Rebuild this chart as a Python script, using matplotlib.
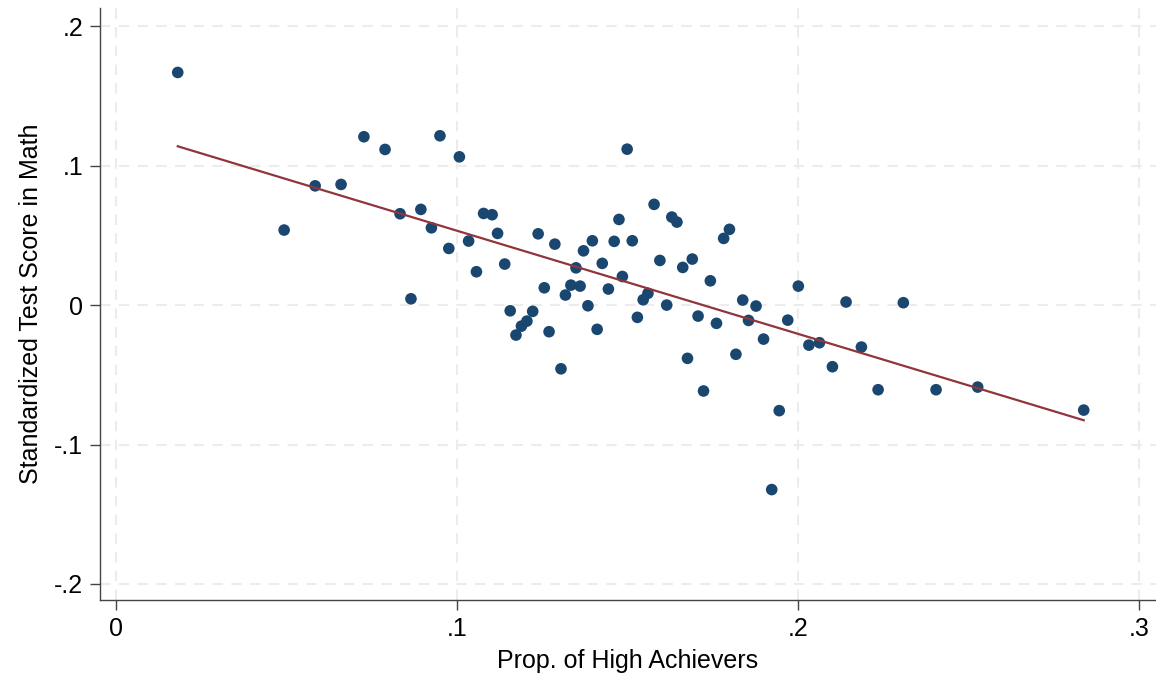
import numpy as np
import matplotlib
matplotlib.use('Agg')
import matplotlib.pyplot as plt

# Proportion of high achievers vs standardized math score
prop_high = [0.0181, 0.0493, 0.0584, 0.0660, 0.0727, 0.0789, 0.0833, 0.0865, 0.0894, 0.0925,
             0.0950, 0.0976, 0.1007, 0.1034, 0.1057, 0.1078, 0.1103, 0.1119, 0.1140, 0.1156,
             0.1173, 0.1189, 0.1205, 0.1222, 0.1238, 0.1256, 0.1270, 0.1287, 0.1305, 0.1318,
             0.1334, 0.1349, 0.1361, 0.1371, 0.1384, 0.1397, 0.1411, 0.1426, 0.1444, 0.1461,
             0.1475, 0.1485, 0.1499, 0.1514, 0.1529, 0.1546, 0.1560, 0.1578, 0.1595, 0.1615,
             0.1630, 0.1645, 0.1662, 0.1676, 0.1690, 0.1707, 0.1723, 0.1743, 0.1761, 0.1782,
             0.1799, 0.1818, 0.1838, 0.1855, 0.1877, 0.1899, 0.1923, 0.1945, 0.1970, 0.2001,
             0.2032, 0.2063, 0.2101, 0.2141, 0.2186, 0.2235, 0.2309, 0.2405, 0.2527, 0.2838]
math_score = [0.1668, 0.0538, 0.0855, 0.0865, 0.1207, 0.1116, 0.0655, 0.0045, 0.0686, 0.0554,
              0.1214, 0.0406, 0.1063, 0.0459, 0.0239, 0.0657, 0.0648, 0.0514, 0.0294, -0.0041,
              -0.0215, -0.0151, -0.0115, -0.0045, 0.0511, 0.0124, -0.0191, 0.0437, -0.0457, 0.0072,
              0.0143, 0.0267, 0.0136, 0.0389, -0.0005, 0.0461, -0.0174, 0.0299, 0.0115, 0.0457,
              0.0614, 0.0205, 0.1118, 0.0461, -0.0088, 0.0038, 0.0084, 0.0722, 0.0320, 0.0000,
              0.0631, 0.0595, 0.0270, -0.0382, 0.0330, -0.0079, -0.0616, 0.0174, -0.0131, 0.0478,
              0.0543, -0.0353, 0.0036, -0.0110, -0.0007, -0.0244, -0.1323, -0.0757, -0.0108, 0.0136,
              -0.0287, -0.0270, -0.0442, 0.0022, -0.0301, -0.0607, 0.0017, -0.0607, -0.0588, -0.0753]

x_ticks = [0, 0.1, 0.2, 0.3]
x_tick_labels = ['0', '.1', '.2', '.3']
y_ticks = [-0.2, -0.1, 0, 0.1, 0.2]
y_tick_labels = ['-.2', '-.1', '0', '.1', '.2']

plt.rcParams['font.family'] = ['Liberation Sans', 'DejaVu Sans']

x = np.array(prop_high)
y = np.array(math_score)

fig = plt.figure(figsize=(11.56, 6.8), dpi=100)
ax = fig.add_axes([0.0865, 0.1176, 0.9135, 0.8706])

ax.scatter(x, y, s=70, color='#1a476f', edgecolors='none', zorder=3)

# linear fit, like Stata's lfit
slope, intercept = np.polyfit(x, y, 1)
xfit = np.array([x.min(), x.max()])
ax.plot(xfit, intercept + slope * xfit, color='#90353b', lw=1.6, zorder=4)

ax.set_xlim(-0.0047, 0.305)
ax.set_ylim(-0.2115, 0.213)
ax.set_xticks(x_ticks)
ax.set_xticklabels(x_tick_labels)
ax.set_yticks(y_ticks)
ax.set_yticklabels(y_tick_labels)

ax.grid(True, color='#ececec', linestyle=(0, (5, 4)), linewidth=1.5, zorder=0)
for side in ['top', 'right']:
    ax.spines[side].set_visible(False)
for side in ['left', 'bottom']:
    ax.spines[side].set_color('#444444')
    ax.spines[side].set_linewidth(1.0)

ax.tick_params(axis='both', direction='out', length=7, width=1, color='#444444',
               labelsize=18, pad=5)

ax.set_xlabel('Prop. of High Achievers', fontsize=18, labelpad=6)
ax.set_ylabel('Standardized Test Score in Math', fontsize=18, labelpad=8)

fig.savefig('out.png', dpi=100)
